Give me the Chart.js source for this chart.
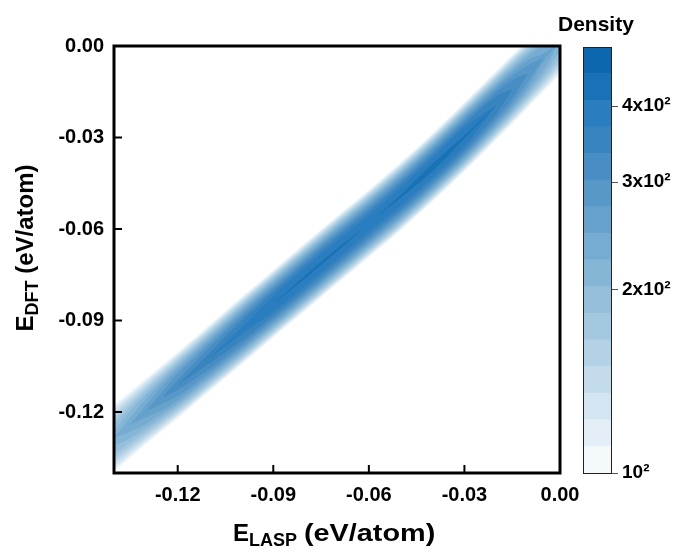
<!DOCTYPE html>
<html>
<head>
<meta charset="utf-8">
<script src="https://cdn.jsdelivr.net/npm/chart.js@4.4.1/dist/chart.umd.min.js"></script>
<style>
  html, body { margin: 0; padding: 0; background: #fff; }
  #wrap { position: relative; width: 684px; height: 556px; overflow: hidden;
          font-family: "Liberation Sans", Arial, sans-serif; font-weight: bold; color: #000; }
  #densityChart { position: absolute; left: 0; top: 0; }
  #barChart { position: absolute; left: 560px; top: 0; }
  .title { position: absolute; white-space: nowrap; font-size: 24px; line-height: 30px; }
  .title .sub { position: relative; top: 5px; font-size: 18px; }
  #xTitle { left: 233px; top: 518px; }
  #xTitle .unit { display: inline-block; transform: scaleX(1.2); transform-origin: left center; }
  #yTitle { left: -74px; top: 232px; width: 200px; text-align: center; transform: rotate(-90deg); }
  #barTitle { position: absolute; left: 558px; top: 12px; font-size: 21px; line-height: 24px; }
</style>
</head>
<body>
<div id="wrap">
  <canvas id="densityChart" width="684" height="556"></canvas>
  <canvas id="barChart" width="124" height="556"></canvas>
  <div class="title" id="xTitle">E<span class="sub">LASP</span> <span class="unit">(eV/atom)</span></div>
  <div class="title" id="yTitle">E<span class="sub">DFT</span> (eV/atom)</div>
  <div id="barTitle">Density</div>
</div>
<script>
// stations along the LASP energy axis and the ridge of the density band
const stationX = [-0.155, -0.145, -0.14, -0.135, -0.13, -0.125, -0.12, -0.11, -0.10, -0.09, -0.08,
                  -0.07, -0.06, -0.05, -0.04, -0.03, -0.02, -0.015, -0.01, -0.005, 0.00, 0.012];
const centerY = [-0.1410, -0.1327, -0.1286, -0.1242, -0.1198, -0.1155, -0.1112, -0.1023, -0.0934, -0.0845, -0.0757,
                 -0.0669, -0.0582, -0.0493, -0.0398, -0.0298, -0.0194, -0.0142, -0.0089, -0.0037, 0.0016, 0.0142];
// density on the ridge and vertical spread of the band at each station
const peakDensity = [165, 190, 210, 232, 255, 282, 310, 345, 375, 400, 410,
                     410, 402, 410, 415, 410, 365, 330, 290, 250, 215, 160];
const spreadY = [0.0112, 0.0098, 0.0092, 0.0085, 0.0080, 0.0076, 0.0073, 0.0070, 0.0069, 0.0067, 0.0067,
                 0.0067, 0.0067, 0.0067, 0.0067, 0.0068, 0.0071, 0.0074, 0.0078, 0.0083, 0.0090, 0.0110];

// contour levels (log spaced, 16 bands) and their fill colours
const levelBounds = [100, 110.6, 122.3, 135.2, 149.5, 165.4, 182.9, 202.2, 223.6,
                     247.3, 273.5, 302.4, 334.4, 369.8, 408.9, 452.2, 500];
const levelColors = ['#f4f9fc', '#e3eef6', '#d3e5f0', '#c3dbea', '#b3d2e5', '#a4c8e0',
                     '#95bfdb', '#86b6d6', '#77acd2', '#67a2cd', '#5898c8', '#488ec4',
                     '#3884bf', '#2a7dbf', '#1a72b6', '#0c67af'];

const energyTicks = [-0.12, -0.09, -0.06, -0.03, 0];
const densityTicks = [100, 200, 300, 400];
const densityTickLabels = ['10²', '2x10²', '3x10²', '4x10²'];

const fontFamily = '"Liberation Sans", Arial, sans-serif';
Chart.defaults.font.family = fontFamily;
Chart.defaults.font.weight = 'bold';
Chart.defaults.color = '#000';

// closed outline of one contour level: ridge +/- half width, upper edge then lower edge back
function contourRing(level) {
    let half = stationX.map((x, i) => peakDensity[i] > level
        ? spreadY[i] * Math.sqrt(2 * Math.log(peakDensity[i] / level)) : 0);
    let first = half.findIndex(h => h > 0);
    if (first < 0) return null;
    let last = half.length - 1 - [...half].reverse().findIndex(h => h > 0);
    first = Math.max(first - 1, 0);
    last = Math.min(last + 1, half.length - 1);
    let upper = [];
    let lower = [];
    for (let i = first; i <= last; i++) {
        upper.push({x: stationX[i], y: centerY[i] + half[i]});
        lower.unshift({x: stationX[i], y: centerY[i] - half[i]});
    }
    return upper.concat(lower);
}

let contourSets = [];
levelColors.forEach((color, k) => {
    let ring = contourRing(levelBounds[k]);
    if (!ring) return;
    contourSets.push({
        data: ring,
        showLine: true,
        fill: 'shape',
        backgroundColor: color,
        borderColor: color,
        borderWidth: 0,
        pointRadius: 0,
        tension: 0.35,
        order: levelColors.length - k
    });
});

// plot frame and inward tick marks
const frameTicks = {
    id: 'frameTicks',
    afterDatasetsDraw(chart) {
        const {ctx, chartArea: a, scales} = chart;
        ctx.save();
        ctx.strokeStyle = '#000';
        ctx.lineWidth = 2;
        scales.x.ticks.forEach(t => {
            let px = scales.x.getPixelForValue(t.value);
            ctx.beginPath();
            ctx.moveTo(px, a.bottom);
            ctx.lineTo(px, a.bottom - 8);
            ctx.stroke();
        });
        scales.y.ticks.forEach(t => {
            let py = scales.y.getPixelForValue(t.value);
            ctx.beginPath();
            ctx.moveTo(a.left, py);
            ctx.lineTo(a.left + 8, py);
            ctx.stroke();
        });
        ctx.lineWidth = 3;
        ctx.strokeRect(a.left, a.top, a.right - a.left, a.bottom - a.top);
        ctx.restore();
    }
};

function energyAxis(size) {
    return {
        type: 'linear',
        min: -0.14,
        max: 0,
        afterBuildTicks: s => { s.ticks = energyTicks.map(v => ({value: v})); },
        ticks: {
            callback: v => v.toFixed(2),
            font: {size: 20, weight: 'bold'},
            color: '#000',
            padding: 10,
            maxRotation: 0,
            autoSkip: false
        },
        grid: {display: false, drawTicks: false},
        border: {display: false},
        afterFit: size
    };
}

new Chart('densityChart', {
    type: 'scatter',
    data: {datasets: contourSets},
    options: {
        responsive: false,
        animation: false,
        events: [],
        layout: {padding: {left: 0, top: 46, right: 124, bottom: 0}},
        plugins: {legend: {display: false}, tooltip: {enabled: false}},
        scales: {
            x: energyAxis(s => { s.height = 83; }),
            y: energyAxis(s => { s.width = 114; })
        }
    },
    plugins: [frameTicks]
});

// colour bar frame
const barFrame = {
    id: 'barFrame',
    afterDatasetsDraw(chart) {
        const {ctx, chartArea: a} = chart;
        ctx.save();
        ctx.strokeStyle = '#222';
        ctx.lineWidth = 1;
        ctx.strokeRect(a.left + 0.5, a.top + 0.5, a.right - a.left - 1, a.bottom - a.top);
        ctx.restore();
    }
};

new Chart('barChart', {
    type: 'bar',
    data: {
        labels: ['Density'],
        datasets: levelColors.map((color, k) => ({
            data: [[levelBounds[k], levelBounds[k + 1]]],
            backgroundColor: color,
            borderWidth: 0,
            barPercentage: 1,
            categoryPercentage: 1,
            grouped: false
        }))
    },
    options: {
        responsive: false,
        animation: false,
        events: [],
        layout: {padding: {left: 23, top: 47, right: 0, bottom: 83}},
        plugins: {legend: {display: false}, tooltip: {enabled: false}},
        scales: {
            x: {display: false},
            y: {
                type: 'logarithmic',
                position: 'right',
                min: 100,
                max: 500,
                afterBuildTicks: s => { s.ticks = densityTicks.map(v => ({value: v})); },
                ticks: {
                    callback: v => densityTickLabels[densityTicks.indexOf(v)],
                    font: {size: 19, weight: 'bold'},
                    color: '#000',
                    padding: 4
                },
                grid: {drawOnChartArea: false, drawTicks: true, tickLength: 6, color: '#555', lineWidth: 1},
                border: {display: false},
                afterFit: s => { s.width = 72; }
            }
        }
    },
    plugins: [barFrame]
});
</script>
</body>
</html>
